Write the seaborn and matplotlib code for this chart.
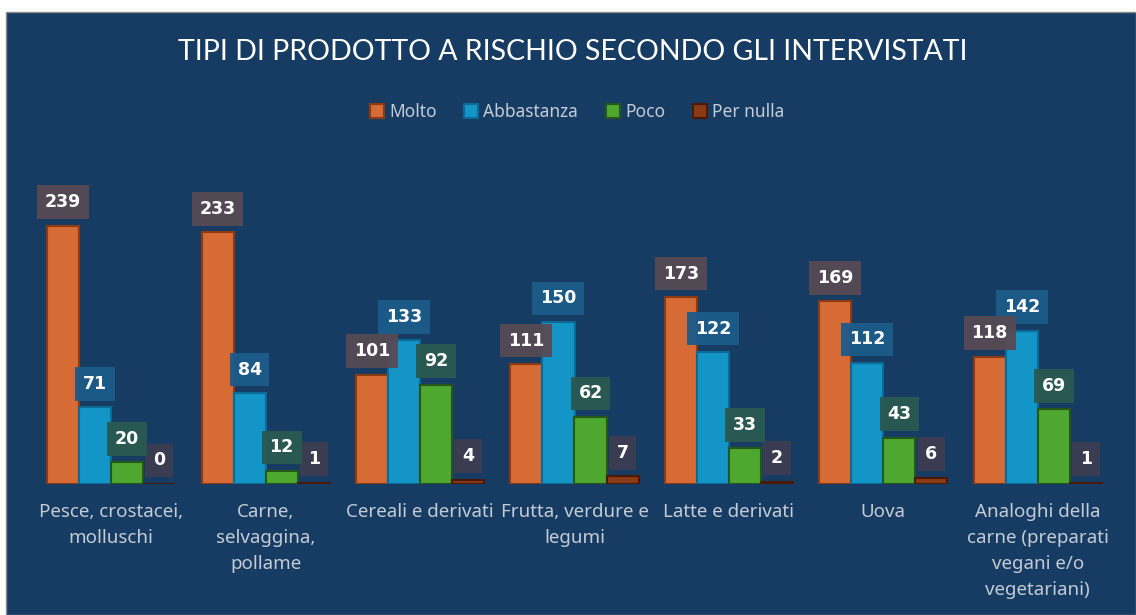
import numpy as np
import pandas as pd
import seaborn as sb
import matplotlib.pyplot as plt
from matplotlib.patches import Rectangle

categories = ['Pesce, crostacei,\nmolluschi', 'Carne,\nselvaggina,\npollame',
              'Cereali e derivati', 'Frutta, verdure e\nlegumi', 'Latte e derivati',
              'Uova', 'Analoghi della\ncarne (preparati\nvegani e/o\nvegetariani)']
series = ['Molto', 'Abbastanza', 'Poco', 'Per nulla']
molto = [239, 233, 101, 111, 173, 169, 118]
abbastanza = [71, 84, 133, 150, 122, 112, 142]
poco = [20, 12, 92, 62, 33, 43, 69]
per_nulla = [0, 1, 4, 7, 2, 6, 1]

df = pd.DataFrame({
    'cat': categories * 4,
    'serie': np.repeat(series, len(categories)),
    'val': molto + abbastanza + poco + per_nulla,
})

bg = '#173c63'
faces = ['#d66b35', '#1395c8', '#4ea72e', '#8a3a14']
edges = ['#8b3a12', '#0d6a94', '#25561a', '#4a1a06']
boxes = ['#574a55', '#1c5b8a', '#2a5a50', '#3d3c50']

sb.set_style('white')
plt.rcParams['font.family'] = ['Noto Sans', 'DejaVu Sans']

fig = plt.figure(figsize=(11.36, 6.15), dpi=100, facecolor='white')
fig.patches.append(Rectangle((6 / 1136, 0), 1 - 6 / 1136, 1 - 12 / 615,
                             transform=fig.transFigure, facecolor=bg,
                             edgecolor='#8a8a8a', linewidth=1, zorder=-5))
ax = fig.add_axes([34 / 1136, 131 / 615, 1081 / 1136, 270 / 615])
ax.set_facecolor('none')

sb.barplot(data=df, x='cat', y='val', hue='serie', order=categories,
           hue_order=series, palette=faces, width=0.83, saturation=1,
           ax=ax, legend=False)

for i, cont in enumerate(ax.containers):
    for bar in cont:
        bar.set_edgecolor(edges[i])
        bar.set_linewidth(1.5)

# data labels, drawn back to front so the first series sits on top
for i in reversed(range(len(ax.containers))):
    for bar in ax.containers[i]:
        h = bar.get_height()
        ax.annotate(f'{int(h)}', (bar.get_x() + bar.get_width() / 2, h),
                    xytext=(0, 17), textcoords='offset points',
                    ha='center', va='center', fontsize=12.5,
                    fontweight='bold', color='white', family='DejaVu Sans',
                    bbox=dict(boxstyle='square,pad=0.45', fc=boxes[i],
                              ec='none', alpha=0.95))

ax.set_ylim(0, 250)
ax.set_xlim(-0.5, len(categories) - 0.5)
ax.set_yticks([])
ax.set_xlabel('')
ax.set_ylabel('')
ax.tick_params(axis='x', length=0, pad=14, labelsize=13.5, labelcolor='#c3cbd5')
for lab in ax.get_xticklabels():
    lab.set_linespacing(1.55)
sb.despine(ax=ax, left=True, bottom=True)

fig.text(0.504, 1 - 52 / 615, 'TIPI DI PRODOTTO A RISCHIO SECONDO GLI INTERVISTATI',
         ha='center', va='center', color='white', fontsize=20.5, family='Lato')

handles = [Rectangle((0, 0), 1, 1, fc=faces[i], ec=edges[i], lw=1.5)
           for i in range(4)]
fig.legend(handles, series, loc='center', bbox_to_anchor=(0.508, 1 - 112 / 615),
           ncol=4, frameon=False, fontsize=12.5, labelcolor='#c3cbd5',
           handlelength=0.8, handleheight=0.8, handletextpad=0.3,
           columnspacing=1.6)

fig.savefig('out.png', dpi=100, facecolor='white')
